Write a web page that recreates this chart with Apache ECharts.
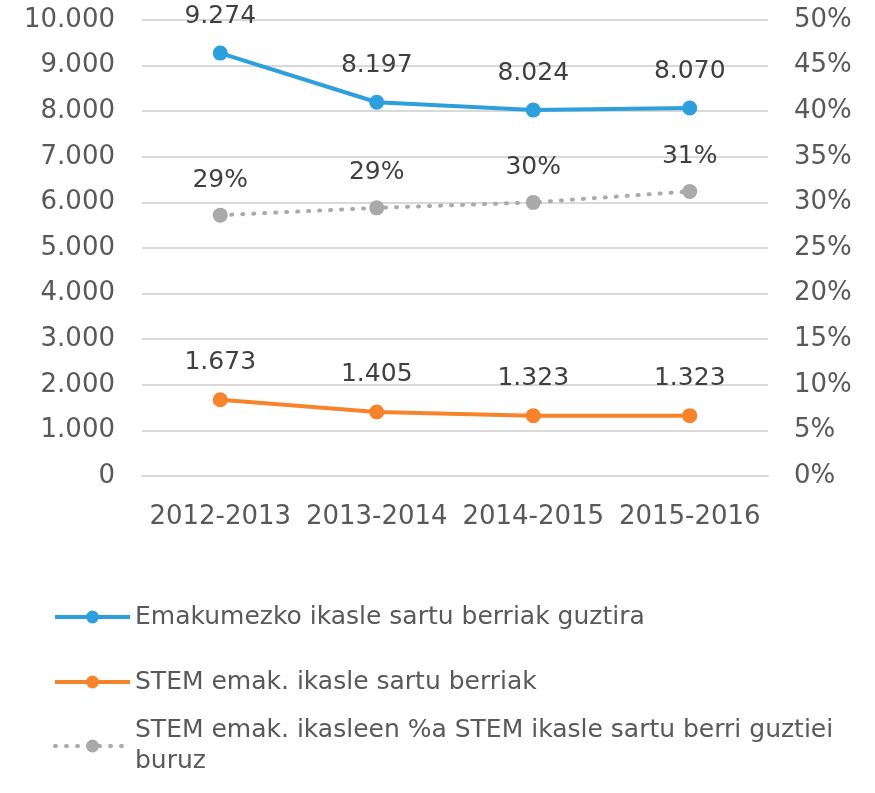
<!DOCTYPE html>
<html>
<head>
<meta charset="utf-8">
<script src="https://cdn.jsdelivr.net/npm/echarts@6/dist/echarts.min.js"></script>
<style>
html,body{margin:0;padding:0;background:#fff;}
#chart{width:875px;height:793px;}
</style>
</head>
<body>
<div id="chart"></div>
<script>
const categories = ['2012-2013', '2013-2014', '2014-2015', '2015-2016'];
const seriesNames = [
  'Emakumezko ikasle sartu berriak guztira',
  'STEM emak. ikasle sartu berriak',
  'STEM emak. ikasleen %a STEM ikasle sartu berri guztiei buruz'
];
const totalWomen = [9274, 8197, 8024, 8070];
const stemWomen = [1673, 1405, 1323, 1323];
const stemPercent = [28.6, 29.4, 30.0, 31.2];
const leftTicks = {min: 0, max: 10000, interval: 1000};
const rightTicks = {min: 0, max: 50, interval: 5};

const FONT = 'DejaVu Sans';
const TEXT = '#595959';
const BLUE = '#2c9fdc';
const ORANGE = '#f7832a';
const GREY = '#a9a9a9';

function thousands(v) {
  return String(Math.round(v)).replace(/\B(?=(\d{3})+(?!\d))/g, '.');
}

const chart = echarts.init(document.getElementById('chart'));

function legendBox(name, top, extraText) {
  return {
    orient: 'vertical',
    left: 53,
    top: top,
    padding: 0,
    itemWidth: 75,
    itemHeight: 16,
    itemGap: 0,
    selectedMode: false,
    data: [name],
    lineStyle: {width: 4},
    formatter: function (n) {
      return n === seriesNames[2] ? 'STEM emak. ikasleen %a STEM ikasle sartu berri guztiei\nburuz' : n;
    },
    textStyle: Object.assign({
      fontFamily: FONT, fontSize: 25, color: TEXT, lineHeight: 31
    }, extraText || {})
  };
}

chart.setOption({
  backgroundColor: '#ffffff',
  animation: false,
  textStyle: {fontFamily: FONT},
  grid: {left: 142, right: 107, top: 20, bottom: 317, containLabel: false},
  legend: [
    legendBox(seriesNames[0], 617 - 15.5),
    legendBox(seriesNames[1], 682 - 15.5),
    legendBox(seriesNames[2], 746 - 46.5, {padding: [31, 0, 0, 0]})
  ],
  xAxis: {
    type: 'category',
    data: categories,
    boundaryGap: true,
    axisLine: {show: true, lineStyle: {color: '#d9d9d9', width: 2}},
    axisTick: {show: false},
    axisLabel: {fontFamily: FONT, fontSize: 26, color: TEXT, margin: 28, interval: 0, hideOverlap: false}
  },
  yAxis: [
    {
      type: 'value',
      min: leftTicks.min, max: leftTicks.max, interval: leftTicks.interval,
      axisLine: {show: false},
      axisTick: {show: false},
      splitLine: {show: true, lineStyle: {color: '#d9d9d9', width: 2}},
      axisLabel: {fontFamily: FONT, fontSize: 26, color: TEXT, margin: 27, formatter: thousands}
    },
    {
      type: 'value',
      position: 'right',
      min: rightTicks.min, max: rightTicks.max, interval: rightTicks.interval,
      axisLine: {show: false},
      axisTick: {show: false},
      splitLine: {show: false},
      axisLabel: {fontFamily: FONT, fontSize: 26, color: TEXT, margin: 26, formatter: '{value}%'}
    }
  ],
  series: [
    {
      name: seriesNames[0],
      type: 'line',
      yAxisIndex: 0,
      data: totalWomen,
      symbol: 'circle',
      symbolSize: 15,
      itemStyle: {color: BLUE},
      lineStyle: {color: BLUE, width: 4},
      label: {show: true, position: 'top', distance: 17, fontFamily: FONT, fontSize: 25, color: '#404040', formatter: p => thousands(p.value)}
    },
    {
      name: seriesNames[1],
      type: 'line',
      yAxisIndex: 0,
      data: stemWomen,
      symbol: 'circle',
      symbolSize: 15,
      itemStyle: {color: ORANGE},
      lineStyle: {color: ORANGE, width: 4},
      label: {show: true, position: 'top', distance: 17, fontFamily: FONT, fontSize: 25, color: '#404040', formatter: p => thousands(p.value)}
    },
    {
      name: seriesNames[2],
      type: 'line',
      yAxisIndex: 1,
      data: stemPercent,
      symbol: 'circle',
      symbolSize: 15,
      itemStyle: {color: GREY},
      lineStyle: {color: GREY, width: 4, type: [1, 10], cap: 'round'},
      label: {show: true, position: 'top', distance: 15, fontFamily: FONT, fontSize: 25, color: '#404040', formatter: p => Math.round(p.value) + '%'}
    }
  ]
});
</script>
</body>
</html>
